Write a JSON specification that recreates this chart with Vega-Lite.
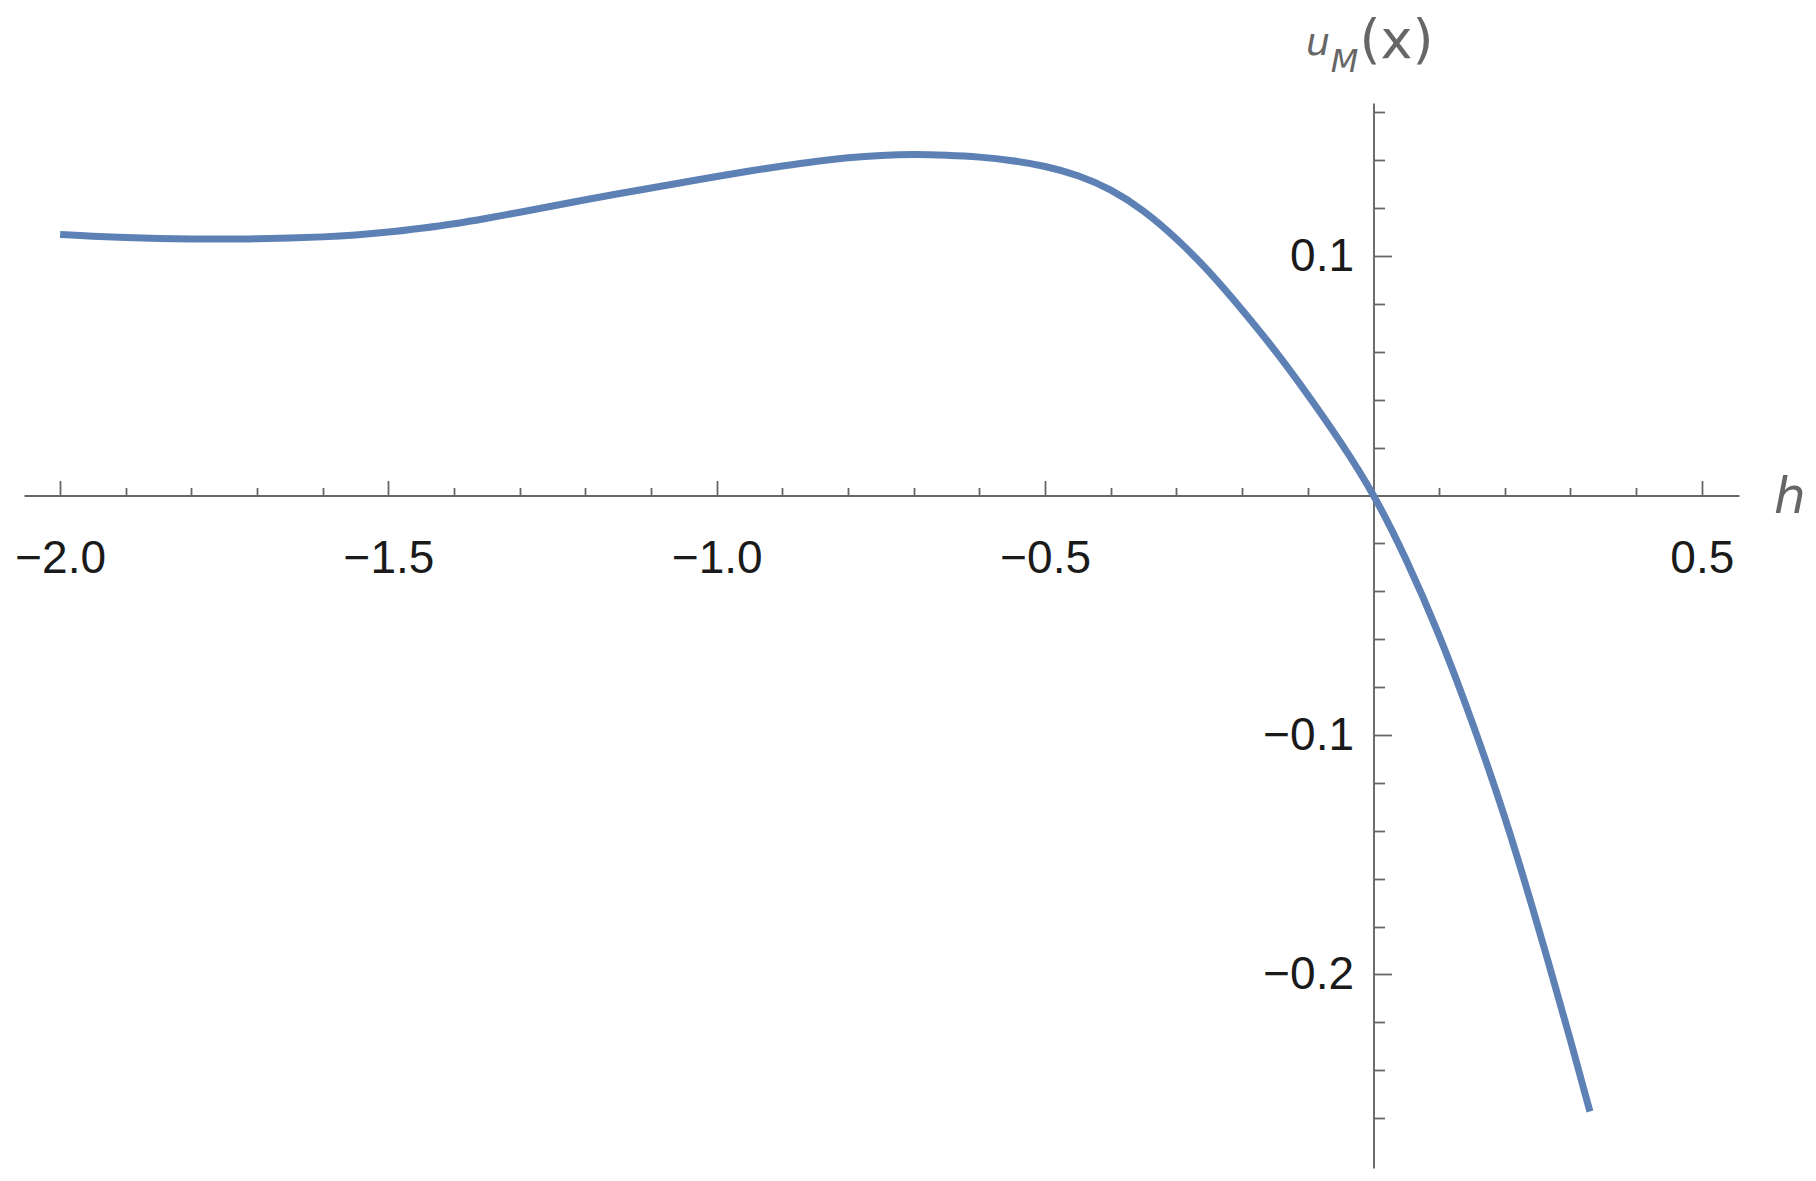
{
  "$schema": "https://vega.github.io/schema/vega-lite/v6.json",
  "width": 1715,
  "height": 1065,
  "autosize": {"type": "none"},
  "padding": {"left": 24, "top": 103, "right": 77, "bottom": 13},
  "background": "white",
  "config": {"view": {"stroke": null}, "axis": {"grid": false}},
  "data": {
    "values": [
      {"h": -2.0, "u": 0.1090},
      {"h": -1.95, "u": 0.1083},
      {"h": -1.9, "u": 0.1077},
      {"h": -1.85, "u": 0.1073},
      {"h": -1.8, "u": 0.1071},
      {"h": -1.75, "u": 0.1071},
      {"h": -1.7, "u": 0.1072},
      {"h": -1.65, "u": 0.1075},
      {"h": -1.6, "u": 0.1080},
      {"h": -1.55, "u": 0.1088},
      {"h": -1.5, "u": 0.1100},
      {"h": -1.45, "u": 0.1116},
      {"h": -1.4, "u": 0.1135},
      {"h": -1.35, "u": 0.1158},
      {"h": -1.3, "u": 0.1183},
      {"h": -1.25, "u": 0.1209},
      {"h": -1.2, "u": 0.1235},
      {"h": -1.15, "u": 0.1260},
      {"h": -1.1, "u": 0.1284},
      {"h": -1.05, "u": 0.1308},
      {"h": -1.0, "u": 0.1332},
      {"h": -0.95, "u": 0.1355},
      {"h": -0.9, "u": 0.1376},
      {"h": -0.85, "u": 0.1395},
      {"h": -0.8, "u": 0.1410},
      {"h": -0.75, "u": 0.1420},
      {"h": -0.7, "u": 0.1424},
      {"h": -0.65, "u": 0.1421},
      {"h": -0.6, "u": 0.1413},
      {"h": -0.55, "u": 0.1398},
      {"h": -0.5, "u": 0.1374},
      {"h": -0.45, "u": 0.1335},
      {"h": -0.4, "u": 0.1275},
      {"h": -0.35, "u": 0.1187},
      {"h": -0.3, "u": 0.1071},
      {"h": -0.25, "u": 0.0933},
      {"h": -0.2, "u": 0.0775},
      {"h": -0.15, "u": 0.0605},
      {"h": -0.1, "u": 0.0420},
      {"h": -0.05, "u": 0.0222},
      {"h": 0.0, "u": 0.0},
      {"h": 0.05, "u": -0.0270},
      {"h": 0.1, "u": -0.0585},
      {"h": 0.15, "u": -0.0945},
      {"h": 0.2, "u": -0.1345},
      {"h": 0.25, "u": -0.1795},
      {"h": 0.3, "u": -0.2275},
      {"h": 0.3296, "u": -0.2572}
    ]
  },
  "resolve": {"axis": {"x": "independent", "y": "independent"}},
  "layer": [
    {
      "mark": {"type": "line", "opacity": 0},
      "encoding": {
        "x": {"field": "h", "type": "quantitative",
          "scale": {"domain": [-2.055, 0.5566], "nice": false, "zero": false},
          "axis": {"orient": "bottom", "offset": -672.5, "title": null, "labels": false, "domain": false, "ticks": true, "tickSize": -15, "tickColor": "#666666", "tickWidth": 1.8,
            "values": [-2, -1.5, -1, -0.5, 0.5]}},
        "y": {"field": "u", "type": "quantitative",
          "scale": {"domain": [-0.2808, 0.1639], "nice": false, "zero": false},
          "axis": {"orient": "left", "offset": -1349.5, "title": null, "labels": false, "domain": false, "ticks": true, "tickSize": -18, "tickColor": "#666666", "tickWidth": 1.8,
            "values": [-0.2, -0.1, 0.1]}}
      }
    },
    {
      "mark": {"type": "line", "opacity": 0},
      "encoding": {
        "x": {"field": "h", "type": "quantitative",
          "axis": {"orient": "bottom", "offset": -672.5, "title": null, "labels": false, "domain": false, "ticks": true, "tickSize": -8, "tickColor": "#666666", "tickWidth": 1.8,
            "values": [-1.9, -1.8, -1.7, -1.6, -1.4, -1.3, -1.2, -1.1, -0.9, -0.8, -0.7, -0.6, -0.4, -0.3, -0.2, -0.1, 0.1, 0.2, 0.3, 0.4]}},
        "y": {"field": "u", "type": "quantitative",
          "axis": {"orient": "left", "offset": -1349.5, "title": null, "labels": false, "domain": false, "ticks": true, "tickSize": -11, "tickColor": "#666666", "tickWidth": 1.8,
            "values": [0.02, 0.04, 0.06, 0.08, 0.12, 0.14, 0.16, -0.02, -0.04, -0.06, -0.08, -0.12, -0.14, -0.16, -0.18, -0.22, -0.24, -0.26]}}
      }
    },
    {
      "mark": {"type": "line", "color": "#5E81B5", "strokeWidth": 7, "interpolate": "natural", "strokeCap": "butt"},
      "encoding": {
        "x": {"field": "h", "type": "quantitative",
          "axis": {"orient": "bottom", "offset": -672.5, "title": null, "ticks": false, "domain": true, "domainColor": "#666666", "domainWidth": 1.9,
            "values": [-2, -1.5, -1, -0.5, 0.5], "format": ".1f", "labelPadding": 41, "labelFontSize": 46, "labelFont": "Liberation Sans", "labelColor": "#1a1a1a", "labelFlush": false, "labelOverlap": false, "labelBound": false}},
        "y": {"field": "u", "type": "quantitative",
          "axis": {"orient": "left", "offset": -1349.5, "title": null, "ticks": false, "domain": true, "domainColor": "#666666", "domainWidth": 1.9,
            "values": [-0.2, -0.1, 0.1], "format": ".1f", "labelPadding": 20, "labelFontSize": 46, "labelFont": "Liberation Sans", "labelColor": "#1a1a1a", "labelBaseline": "middle", "labelFlush": false, "labelOverlap": false, "labelBound": false}}
      }
    },
    {
      "data": {"values": [{}]},
      "mark": {"type": "text", "text": "h", "font": "DejaVu Sans", "fontSize": 50, "fontStyle": "italic", "color": "#666666", "align": "center", "baseline": "alphabetic"},
      "encoding": {
        "x": {"datum": 0.634, "type": "quantitative", "axis": null},
        "y": {"datum": -0.0072, "type": "quantitative", "axis": null}
      }
    },
    {
      "data": {"values": [{}]},
      "mark": {"type": "text", "text": "u", "font": "DejaVu Sans", "fontSize": 38, "fontStyle": "italic", "color": "#666666", "align": "left", "baseline": "alphabetic"},
      "encoding": {
        "x": {"datum": -0.1029, "type": "quantitative", "axis": null},
        "y": {"datum": 0.1840, "type": "quantitative", "axis": null}
      }
    },
    {
      "data": {"values": [{}]},
      "mark": {"type": "text", "text": "M", "font": "DejaVu Sans", "fontSize": 32, "fontStyle": "italic", "color": "#666666", "align": "left", "baseline": "alphabetic"},
      "encoding": {
        "x": {"datum": -0.0649, "type": "quantitative", "axis": null},
        "y": {"datum": 0.1769, "type": "quantitative", "axis": null}
      }
    },
    {
      "data": {"values": [{}]},
      "mark": {"type": "text", "text": "(x)", "font": "DejaVu Sans", "fontSize": 54, "color": "#666666", "align": "left", "baseline": "alphabetic"},
      "encoding": {
        "x": {"datum": -0.0213, "type": "quantitative", "axis": null},
        "y": {"datum": 0.1828, "type": "quantitative", "axis": null}
      }
    }
  ]
}
